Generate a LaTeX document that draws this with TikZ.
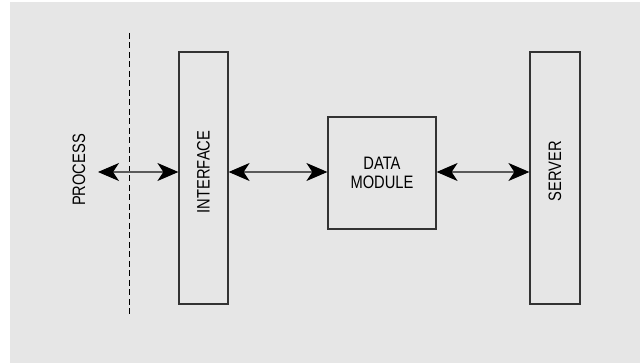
\documentclass[tikz,border=0pt]{standalone}
\usepackage{fontspec}
\setmainfont{Liberation Sans}
\usepackage{xcolor}
\usetikzlibrary{positioning, arrows.meta, calc}
\definecolor{panelgray}{HTML}{E6E6E6}
\definecolor{boxline}{HTML}{333333}
\definecolor{linkgray}{HTML}{5A5A5A}
\newcommand{\tallcap}[1]{\scalebox{0.98}[1.2]{#1}}

\begin{document}
\begin{tikzpicture}[x=1pt, y=-1pt, font=\fontsize{15}{18}\selectfont,
    block/.style={draw=boxline, line width=1.2pt, inner sep=0pt},
    link/.style={{Stealth[length=21pt, width=18pt, inset=6pt, black]}-{Stealth[length=21pt, width=18pt, inset=6pt, black]}, draw=linkgray, line width=1.1pt}]
  \useasboundingbox (0,0) rectangle (640,363);
  \fill[panelgray] (10,2) rectangle (640,363);
  % blocks
  \node (interface) [block, minimum width=49pt, minimum height=252pt] at (203.5,178) {};
  \node (module) [block, minimum width=108pt, minimum height=112pt, align=center] at (382,173) {\tallcap{DATA}\\[1pt]\tallcap{MODULE}};
  \node (server) [block, minimum width=50pt, minimum height=252pt] at (555,178) {};
  \node (interfacetxt) [rotate=90] at (203.5,172) {\tallcap{INTERFACE}};
  \node (servertxt) [rotate=90] at (555,171) {\tallcap{SERVER}};
  \node (process) [rotate=90] at (79,170) {\tallcap{PROCESS}};
  % process boundary
  \coordinate (cuttop) at (129.5,33);
  \coordinate (cutbot) at (129.5,317);
  \draw[black, line width=1pt, dash pattern=on 6pt off 3.5pt] (cuttop) -- (cutbot);
  % links
  \coordinate (procend) at (98,172);
  \draw[link] (procend) -- (procend -| interface.west);
  \draw[link] (procend -| interface.east) -- (procend -| module.west);
  \draw[link] (procend -| module.east) -- (procend -| server.west);
\end{tikzpicture}
\end{document}
